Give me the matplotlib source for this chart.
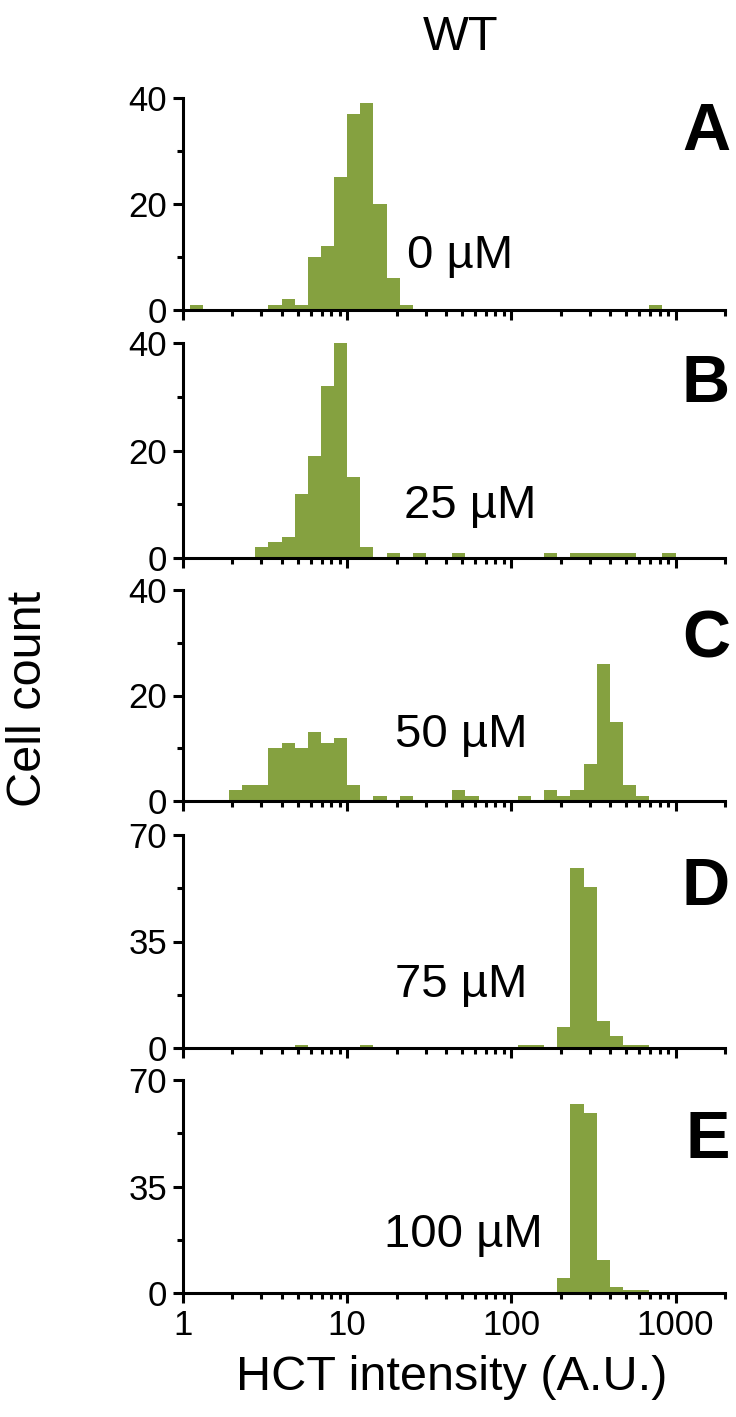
import matplotlib
matplotlib.use('Agg')
import matplotlib.pyplot as plt
import numpy as np
from matplotlib.ticker import FixedLocator, NullFormatter

plt.rcParams['font.family'] = ['Liberation Sans', 'DejaVu Sans']

# ---------------- data ----------------
# histogram bins: centres at 10**(0.08*k), k = 1..41 (bin width 0.08 decades)
bin_index = list(range(1, 42))
bin_step_log = 0.08

counts_0uM = [1, 0, 0, 0, 0, 0, 1, 2, 1, 10, 12, 25, 37, 39, 20, 6, 1, 0, 0, 0,
              0, 0, 0, 0, 0, 0, 0, 0, 0, 0, 0, 0, 0, 0, 0, 1, 0, 0, 0, 0, 0]
counts_25uM = [0, 0, 0, 0, 0, 2, 3, 4, 12, 19, 32, 40, 15, 2, 0, 1, 0, 1, 0, 0,
               1, 0, 0, 0, 0, 0, 0, 1, 0, 1, 1, 1, 1, 1, 0, 0, 1, 0, 0, 0, 0]
counts_50uM = [0, 0, 0, 2, 3, 3, 10, 11, 10, 13, 11, 12, 3, 0, 1, 0, 1, 0, 0, 0,
               2, 1, 0, 0, 0, 1, 0, 2, 1, 2, 7, 26, 15, 3, 1, 0, 0, 0, 0, 0, 0]
counts_75uM = [0, 0, 0, 0, 0, 0, 0, 0, 1, 0, 0, 0, 0, 1, 0, 0, 0, 0, 0, 0,
               0, 0, 0, 0, 0, 1, 1, 0, 7, 59, 53, 9, 4, 1, 1, 0, 0, 0, 0, 0, 0]
counts_100uM = [0, 0, 0, 0, 0, 0, 0, 0, 0, 0, 0, 0, 0, 0, 0, 0, 0, 0, 0, 0,
                0, 0, 0, 0, 0, 0, 0, 0, 5, 62, 59, 11, 2, 1, 1, 0, 0, 0, 0, 0, 0]

panel_letters = ['A', 'B', 'C', 'D', 'E']
conc_labels = ['0 µM', '25 µM', '50 µM', '75 µM', '100 µM']
y_max = [40, 40, 40, 70, 70]
y_major = [[0, 20, 40], [0, 20, 40], [0, 20, 40], [0, 35, 70], [0, 35, 70]]
y_minor = [[10, 30], [10, 30], [10, 30], [17.5, 52.5], [17.5, 52.5]]
x_major = [1, 10, 100, 1000]
x_major_labels = ['1', '10', '100', '1000']
all_counts = [counts_0uM, counts_25uM, counts_50uM, counts_75uM, counts_100uM]

# ---------------- layout (pixels) ----------------
W, H = 736, 1417
GREEN = '#85A140'
ax_left, ax_right = 183, 725
panel_px = [(98, 310), (343, 558), (590, 801), (835, 1048), (1080, 1293)]
conc_pos = [(407, 268), (404, 518), (395, 747), (395, 997), (384, 1247)]
letter_base = [150, 402, 657, 905, 1158]

fig = plt.figure(figsize=(W / 100, H / 100), dpi=100)

k = np.array(bin_index, dtype=float)
lo = 10 ** (bin_step_log * (k - 0.5))
hi = 10 ** (bin_step_log * (k + 0.5))

x_minor = [m * 10 ** d for d in range(4) for m in range(2, 10) if m * 10 ** d <= 2000]

lw = 2.2
for i, (top, bot) in enumerate(panel_px):
    ax = fig.add_axes([ax_left / W, 1 - bot / H, (ax_right - ax_left) / W, (bot - top) / H])
    ax.bar(lo, all_counts[i], width=hi - lo, align='edge', color=GREEN, linewidth=0)
    ax.set_xscale('log')
    ax.set_xlim(1, 2000)
    ax.set_ylim(0, y_max[i])
    for s in ['top', 'right']:
        ax.spines[s].set_visible(False)
    for s in ['left', 'bottom']:
        ax.spines[s].set_linewidth(lw)
        ax.spines[s].set_capstyle('projecting')
    ax.xaxis.set_major_locator(FixedLocator(x_major))
    ax.xaxis.set_minor_locator(FixedLocator(x_minor))
    ax.xaxis.set_minor_formatter(NullFormatter())
    if i == len(panel_px) - 1:
        ax.set_xticklabels(x_major_labels)
    else:
        ax.set_xticklabels([])
    ax.yaxis.set_major_locator(FixedLocator(y_major[i]))
    ax.yaxis.set_minor_locator(FixedLocator(y_minor[i]))
    ax.set_yticklabels([str(v) for v in y_major[i]])
    ax.tick_params(which='major', length=7.5, width=lw, labelsize=25, pad=4, direction='out')
    ax.tick_params(which='minor', length=4, width=lw, direction='out')
    ax.patch.set_alpha(0)

    cx, cy = conc_pos[i]
    fig.text(cx / W, 1 - cy / H, conc_labels[i], fontsize=34, ha='left', va='baseline')
    fig.text(730 / W, 1 - letter_base[i] / H, panel_letters[i], fontsize=48,
             fontweight='bold', ha='right', va='baseline')

fig.text(461 / W, 1 - 50 / H, 'WT', fontsize=35, ha='center', va='baseline')
fig.text(29 / W, 1 - 699 / H, 'Cell count', fontsize=35, rotation=90, ha='center', va='center')
fig.text(452 / W, 1 - 1378 / H, 'HCT intensity (A.U.)', fontsize=35, ha='center', va='center')

fig.savefig('out.png', dpi=100)
